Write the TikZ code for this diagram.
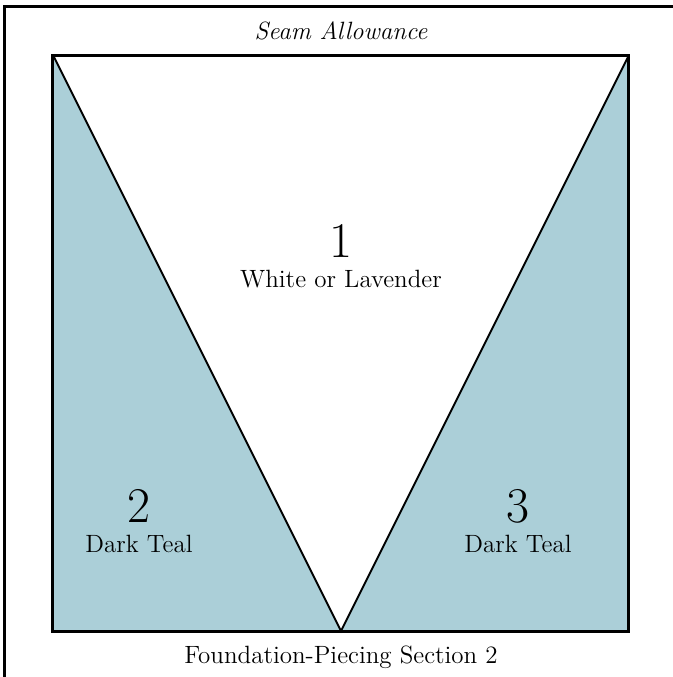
\documentclass[tikz,border=0pt]{standalone}
\usetikzlibrary{calc}

\definecolor{darkteal}{RGB}{171,207,216}

\tikzset{
	piecenum/.style={font=\fontsize{25}{25}\selectfont, inner sep=0pt},
	piecename/.style={font=\fontsize{12.5}{14}\selectfont, inner sep=0pt},
}

\begin{document}
\begin{tikzpicture}[x=0.5pt, y=-0.5pt]
	\useasboundingbox (0,0) rectangle (673,677);

	%Frame
	\draw[line width=1.5pt] (5,690) -- (5,6) -- (690,6);

	%Block corners
	\coordinate (tl) at (53,55);
	\coordinate (tr) at (629,55);
	\coordinate (br) at (629,631);
	\coordinate (bl) at (53,631);
	\coordinate (apex) at ($(bl)!0.5!(br)$);

	\fill[darkteal] (tl) rectangle (br);
	\fill[white] (tl) -- (tr) -- (apex) -- cycle;
	\draw[line width=1pt, line join=miter] (tl) -- (apex) -- (tr);
	\draw[line width=1.5pt] (tl) rectangle (br);

	%Labels
	\node[piecename, font=\fontsize{12.5}{14}\selectfont\itshape] (seam) at (341,31) {Seam Allowance};
	\node[piecenum] (one) at (341,241) {1};
	\node[piecename] (onename) at (341,279) {White or Lavender};
	\node[piecenum] (two) at (139,506) {2};
	\node[piecename] (twoname) at (139,544) {Dark Teal};
	\node[piecenum] (three) at (518,506) {3};
	\node[piecename] (threename) at (518,544) {Dark Teal};
	\node[piecename] (section) at (341,657) {Foundation-Piecing Section 2};
\end{tikzpicture}
\end{document}
